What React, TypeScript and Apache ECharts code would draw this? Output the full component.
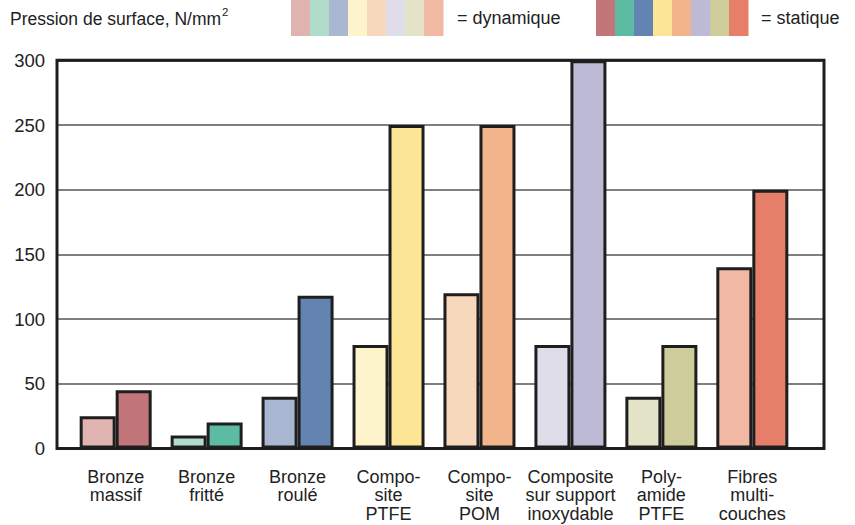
import React, { useEffect, useRef } from "react";
import * as echarts from "echarts";

const categories = [
  "Bronze\nmassif",
  "Bronze\nfritté",
  "Bronze\nroulé",
  "Compo-\nsite\nPTFE",
  "Compo-\nsite\nPOM",
  "Composite\nsur support\ninoxydable",
  "Poly-\namide\nPTFE",
  "Fibres\nmulti-\ncouches",
];
const dynamicValues = [25, 10, 40, 80, 120, 80, 40, 140];
const staticValues = [45, 20, 118, 250, 250, 300, 80, 200];
const dynamicColors = ["#DFB4B0", "#B0DCCB", "#A9B7D2", "#FDF4CC", "#F8D8BC", "#DFDDEA", "#E3E4C8", "#F1B9A4"];
const staticColors = ["#C3767A", "#5DBBA3", "#6384B1", "#FDE596", "#F1B48B", "#BDBAD6", "#CDCC9A", "#E67F6A"];
const yTicks = { min: 0, max: 300, interval: 50 };

const FONT = "Liberation Sans";
const TEXT = "#222";

export default function App() {
  const ref = useRef<HTMLDivElement>(null);
  useEffect(() => {
    if (!ref.current) return;
    const chart = echarts.init(ref.current, null, { renderer: "svg" });
    const swatchW = 19;
    const legendRects: any[] = [];
    dynamicColors.forEach((c, i) =>
      legendRects.push({ type: "rect", shape: { x: 291 + i * swatchW, y: 0, width: swatchW + 0.5, height: 36 }, style: { fill: c } })
    );
    staticColors.forEach((c, i) =>
      legendRects.push({ type: "rect", shape: { x: 596 + i * swatchW, y: 0, width: swatchW + 0.5, height: 36 }, style: { fill: c } })
    );
    const option: any = {
      animation: false,
      backgroundColor: "#fff",
      textStyle: { fontFamily: FONT, color: TEXT },
      graphic: [
        ...legendRects,
        {
          type: "text",
          x: 10,
          y: 6,
          style: {
            text: "{n|Pression de surface, N/mm}{s|2}",
            verticalAlign: "top",
            rich: {
              n: { fontSize: 17.5, fontFamily: FONT, fill: TEXT, verticalAlign: "bottom", lineHeight: 22 },
              s: { fontSize: 11.5, fontFamily: FONT, fill: TEXT, verticalAlign: "top", lineHeight: 12, padding: [0, 0, 0, 1] },
            },
          },
        },
        { type: "text", x: 457, y: 18, style: { text: "= dynamique", font: `18px "${FONT}"`, fill: TEXT, verticalAlign: "middle" } },
        { type: "text", x: 761, y: 18, style: { text: "= statique", font: `18px "${FONT}"`, fill: TEXT, verticalAlign: "middle" } },
      ],
      grid: [
        { left: 57, right: 31, top: 60.3, bottom: 76.5, show: true, borderColor: "#1e1e1e", borderWidth: 3, backgroundColor: "transparent", z: 3 },
        { left: 70.2, right: 57.2, top: 60.3, bottom: 76.5 },
      ],
      xAxis: [
        { gridIndex: 0, type: "value", min: 0, max: 1, show: false },
        {
          gridIndex: 1,
          type: "category",
          data: categories,
          axisLine: { show: false },
          axisTick: { show: false },
          axisLabel: { fontFamily: FONT, fontSize: 18, color: TEXT, lineHeight: 18.5, margin: 19, interval: 0, verticalAlign: "top" },
        },
      ],
      yAxis: [
        {
          gridIndex: 0,
          type: "value",
          min: yTicks.min,
          max: yTicks.max,
          interval: yTicks.interval,
          axisLine: { show: false },
          axisTick: { show: false },
          axisLabel: { fontFamily: FONT, fontSize: 18.5, color: TEXT, margin: 12 },
          splitLine: { lineStyle: { color: "#555", width: 1.5 } },
        },
        { gridIndex: 1, type: "value", min: yTicks.min, max: yTicks.max, interval: yTicks.interval, show: false, splitLine: { show: false } },
      ],
      series: [
        {
          name: "dynamique",
          type: "bar",
          xAxisIndex: 1,
          yAxisIndex: 1,
          barWidth: 36,
          barGap: "0%",
          data: dynamicValues.map((v, i) => ({ value: v, itemStyle: { color: dynamicColors[i] } })),
          itemStyle: { borderColor: "#1e1e1e", borderWidth: 3 },
          z: 2,
        },
        {
          name: "statique",
          type: "bar",
          xAxisIndex: 1,
          yAxisIndex: 1,
          barWidth: 36,
          barGap: "0%",
          data: staticValues.map((v, i) => ({ value: v, itemStyle: { color: staticColors[i] } })),
          itemStyle: { borderColor: "#1e1e1e", borderWidth: 3 },
          z: 2,
        },
      ],
    };
    chart.setOption(option);
    return () => chart.dispose();
  }, []);
  return <div ref={ref} style={{ position: "absolute", left: 0, top: 0, width: 855, height: 525 }} />;
}
